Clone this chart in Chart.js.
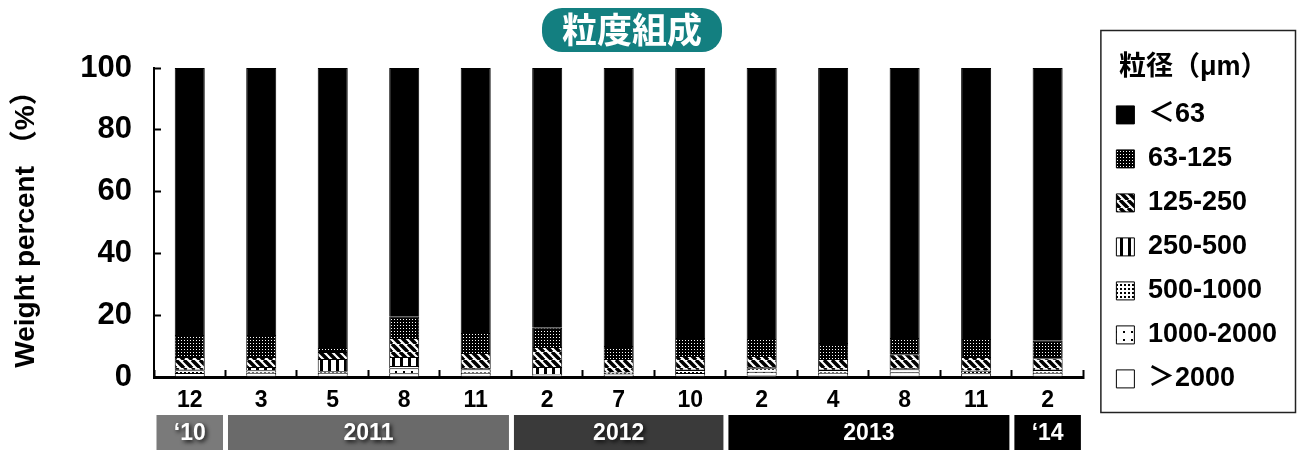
<!DOCTYPE html>
<html lang="ja">
<head>
<meta charset="utf-8">
<title>粒度組成</title>
<script src="https://cdn.jsdelivr.net/npm/chart.js@4"></script>
<style>
  html, body { margin: 0; padding: 0; background: #fff; }
  #wrap { width: 1300px; height: 450px; }
</style>
</head>
<body>
<div id="wrap"><canvas id="chart" width="1300" height="450"></canvas></div>
<script>
// sampling months, grouped by year below the axis
const months = ['12', '3', '5', '8', '11', '2', '7', '10', '2', '4', '8', '11', '2'];
const yearLabels = ['‘10', '2011', '2012', '2013', '‘14'];
const yearSpans = [1, 4, 3, 4, 1];

// grain size classes (µm), stacked from the bottom up
const sizeClasses = ['＞2000', '1000-2000', '500-1000', '250-500', '125-250', '63-125', '＜63'];
const over2000   = [0.3, 0.4, 0.4, 1.2, 0.4, 0.3, 0.3, 0.4, 0.5, 0.4, 0.4, 0.3, 0.4];
const s1000_2000 = [1.0, 1.0, 1.0, 1.6, 1.0, 0.3, 0.5, 0.9, 1.2, 1.0, 1.1, 0.9, 1.0];
const s500_1000  = [0.9, 0.8, 0.5, 0.8, 1.1, 0.4, 0.6, 1.0, 1.1, 0.9, 1.0, 0.8, 0.9];
const s250_500   = [0.4, 1.0, 3.9, 2.9, 0.4, 2.2, 0.2, 0.3, 0.4, 0.3, 0.4, 0.3, 0.3];
const s125_250   = [3.9, 3.3, 2.3, 6.1, 4.9, 6.5, 4.2, 4.2, 3.6, 3.2, 4.5, 4.2, 3.5];
const s63_125    = [7.1, 7.1, 1.3, 7.1, 6.4, 6.2, 4.2, 5.8, 5.5, 5.2, 5.2, 5.8, 5.6];
const under63    = [86.4, 86.4, 90.6, 80.3, 85.8, 84.1, 90.0, 87.4, 87.7, 89.0, 87.4, 87.7, 88.3];
const seriesValues = [over2000, s1000_2000, s500_1000, s250_500, s125_250, s63_125, under63];

const yTicks = [0, 20, 40, 60, 80, 100];

Chart.defaults.font.family = "'Liberation Sans', 'Noto Sans CJK JP', sans-serif";
Chart.defaults.font.weight = 'bold';
Chart.defaults.color = '#000';

function makePattern(w, h, draw) {
    const c = document.createElement('canvas');
    c.width = w;
    c.height = h;
    const g = c.getContext('2d');
    g.fillStyle = '#fff';
    g.fillRect(0, 0, w, h);
    g.fillStyle = '#000';
    g.strokeStyle = '#000';
    draw(g, w, h);
    return c.getContext('2d').createPattern(c, 'repeat');
}

const fills = [
    '#fff',
    makePattern(8, 8, g => g.fillRect(3, 3, 2, 2)),
    makePattern(4, 4, g => g.fillRect(0, 0, 2, 2)),
    makePattern(8, 1, g => g.fillRect(0, 0, 3, 1)),
    makePattern(8, 8, (g, s) => {
        g.lineWidth = 3.5;
        for (const x0 of [-s, 0, s]) {
            g.beginPath();
            g.moveTo(x0, 0);
            g.lineTo(x0 + s, s);
            g.stroke();
        }
    }),
    makePattern(3, 3, g => {
        g.fillRect(0, 0, 3, 3);
        g.fillStyle = '#fff';
        g.fillRect(1, 1, 1, 1);
    }),
    '#000',
];

const datasets = sizeClasses.map((label, i) => ({
    label,
    data: seriesValues[i],
    backgroundColor: fills[i],
    borderColor: '#000',
    borderWidth: 1,
    barPercentage: 0.42,
    categoryPercentage: 1,
}));

// teal pill behind the title, year bands under the axis, frame round the legend
const decorations = {
    id: 'decorations',
    beforeDraw(chart) {
        const { ctx, titleBlock } = chart;
        const t = chart.options.plugins.title;
        ctx.save();
        ctx.font = Chart.helpers.toFont(t.font).string;
        const tw = ctx.measureText(t.text).width;
        const cx = titleBlock.left + titleBlock.width / 2;
        ctx.fillStyle = '#137f80';
        ctx.beginPath();
        ctx.roundRect(cx - tw / 2 - 20, 8, tw + 40, 44, 20);
        ctx.fill();
        ctx.restore();
    },
    afterDraw(chart) {
        const { ctx, legend } = chart;
        const x = chart.scales.x;
        const half = (x.getPixelForValue(1) - x.getPixelForValue(0)) / 2;
        const top = chart.chartArea.bottom + 38;
        const bandColors = ['#7a7a7a', '#6a6a6a', '#3a3a3a', '#000', '#000'];

        ctx.save();
        let start = 0;
        yearLabels.forEach((label, i) => {
            const end = start + yearSpans[i] - 1;
            const l = x.getPixelForValue(start) - half + 2.5;
            const r = x.getPixelForValue(end) + half - 2.5;
            ctx.fillStyle = bandColors[i];
            ctx.fillRect(l, top, r - l, chart.height - top);
            ctx.font = "bold 23px 'Liberation Sans', sans-serif";
            ctx.textAlign = 'center';
            ctx.textBaseline = 'middle';
            ctx.shadowColor = 'rgba(0,0,0,0.85)';
            ctx.shadowBlur = 4;
            ctx.shadowOffsetX = 2;
            ctx.shadowOffsetY = 2;
            ctx.fillStyle = '#fff';
            ctx.fillText(label, (l + r) / 2, top + (chart.height - top) / 2 + 1);
            ctx.shadowColor = 'transparent';
            start = end + 1;
        });

        ctx.strokeStyle = '#222';
        ctx.lineWidth = 1.5;
        ctx.strokeRect(legend.left + 1.5, 30.5, chart.width - 6 - legend.left, 382);
        ctx.restore();
    }
};

new Chart(document.getElementById('chart'), {
    type: 'bar',
    data: { labels: months, datasets },
    plugins: [decorations],
    options: {
        responsive: false,
        animation: false,
        layout: { padding: { left: -23, right: 13, top: 0, bottom: 0 } },
        scales: {
            x: {
                stacked: true,
                grid: { drawOnChartArea: false, tickLength: -7, tickWidth: 2, tickColor: '#000' },
                border: { color: '#000', width: 3 },
                ticks: { font: { size: 23 }, padding: 17 },
                afterFit(scale) { scale.height = 73; },
            },
            y: {
                stacked: true,
                min: 0,
                max: 100,
                afterBuildTicks(scale) { scale.ticks = yTicks.map(v => ({ value: v })); },
                grid: { drawOnChartArea: false, tickLength: -7, tickWidth: 2, tickColor: '#000' },
                border: { color: '#000', width: 2 },
                ticks: { font: { size: 31 }, padding: 29 },
                title: {
                    display: true,
                    text: 'Weight percent （%）',
                    font: { size: 28 },
                    padding: { top: 32, bottom: 0 },
                },
                afterFit(scale) { scale.width = 177; },
            },
            gap: {
                position: 'right',
                display: true,
                grid: { display: false },
                border: { display: false },
                ticks: { display: false },
                afterFit(scale) { scale.width = 16; },
            },
        },
        plugins: {
            title: {
                display: true,
                text: '粒度組成',
                color: '#fff',
                font: { size: 35, family: "'Noto Sans CJK JP', sans-serif", weight: 'bold' },
                padding: { top: 9, bottom: 17 },
            },
            legend: {
                position: 'right',
                align: 'start',
                reverse: true,
                labels: {
                    boxWidth: 18,
                    boxHeight: 18,
                    padding: 17,
                    font: { size: 27 },
                    color: '#000',
                },
                title: {
                    display: true,
                    text: '粒径（μm）',
                    font: { size: 27 },
                    color: '#000',
                    padding: { top: 54, bottom: -2 },
                },
            },
            tooltip: { enabled: false },
        },
    },
});
</script>
</body>
</html>
